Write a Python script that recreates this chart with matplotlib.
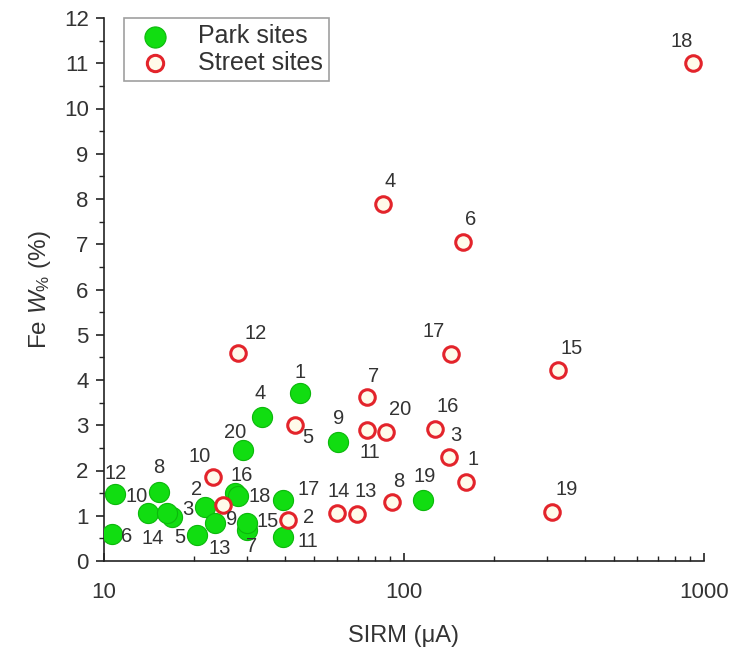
import matplotlib
matplotlib.use("Agg")
import matplotlib.pyplot as plt
import numpy as np

plt.rcParams['font.family'] = ['Liberation Sans', 'DejaVu Sans']
plt.rcParams['mathtext.fontset'] = 'custom'
plt.rcParams['mathtext.rm'] = 'Liberation Sans'
plt.rcParams['mathtext.it'] = 'Liberation Sans:italic'

# park sites (filled green)
park_ids = [1, 2, 3, 4, 5, 6, 7, 8, 9, 10, 11, 12, 13, 14, 15, 16, 17, 18, 19, 20]
park_sirm = [45.0, 21.7, 16.8, 33.6, 20.4, 10.6, 29.9, 15.2, 60.4, 14.05,
             39.6, 10.9, 23.4, 16.2, 29.9, 27.3, 39.6, 28.0, 115.5, 29.1]
park_fe = [3.71, 1.20, 0.98, 3.19, 0.57, 0.60, 0.69, 1.53, 2.64, 1.05,
           0.52, 1.47, 0.83, 1.05, 0.83, 1.50, 1.35, 1.43, 1.35, 2.45]

# street sites (open red)
street_ids = [1, 2, 3, 4, 5, 6, 7, 8, 9, 10, 11, 12, 13, 14, 15, 16, 17, 18, 19, 20]
street_sirm = [160.9, 41.2, 141.0, 85.3, 43.3, 157.6, 75.1, 91.0, 25.0, 23.0,
               75.1, 28.0, 69.9, 59.9, 326.9, 126.9, 143.1, 921.0, 312.2, 87.1]
street_fe = [1.75, 0.91, 2.30, 7.90, 3.01, 7.06, 3.62, 1.30, 1.24, 1.86,
             2.90, 4.59, 1.04, 1.05, 4.21, 2.91, 4.57, 11.0, 1.09, 2.86]

# label offsets in pixels (dx, dy) from each marker
park_off = {1: (0, 21), 2: (-8, 17), 3: (16, 7), 4: (-2, 23), 5: (-17, -2),
            6: (15, -3), 7: (5, -17), 8: (0, 24), 9: (0, 23), 10: (-12, 17),
            11: (25, -4), 12: (0, 21), 13: (5, -25), 14: (-14, -25), 15: (21, 2),
            16: (7, 18), 17: (25, 10), 18: (22, 0), 19: (2, 23), 20: (-8, 18)}
street_off = {1: (7, 22), 2: (20, 2), 3: (7, 21), 4: (7, 22), 5: (13, -13),
              6: (7, 22), 7: (7, 21), 8: (7, 21), 9: (8, -15), 10: (-13, 20),
              11: (3, -23), 12: (17, 20), 13: (8, 22), 14: (1, 22), 15: (13, 22),
              16: (13, 23), 17: (-17, 23), 18: (-12, 22), 19: (14, 22), 20: (14, 22)}

txt = '#333333'
fig = plt.figure(figsize=(7.49, 6.56), dpi=100)
ax = fig.add_axes([104 / 749, 1 - 561 / 656, 600 / 749, 543 / 656])

ax.scatter(park_sirm, park_fe, s=210, color='#11dd11', edgecolors='#0cb80c',
           linewidths=0.8, label='Park sites', zorder=3)
ax.scatter(street_sirm, street_fe, s=125, color='#fffbea', edgecolors='#e3242b',
           linewidths=2.2, label='Street sites', zorder=4)

for i, x, y in zip(park_ids, park_sirm, park_fe):
    dx, dy = park_off[i]
    ax.annotate(str(i), (x, y), xytext=(dx, dy), textcoords='offset pixels',
                ha='center', va='center', fontsize=14.5, color=txt, zorder=5)
for i, x, y in zip(street_ids, street_sirm, street_fe):
    dx, dy = street_off[i]
    ax.annotate(str(i), (x, y), xytext=(dx, dy), textcoords='offset pixels',
                ha='center', va='center', fontsize=14.5, color=txt, zorder=5)

ax.set_xscale('log')
ax.set_xlim(10, 1000)
ax.set_ylim(0, 12)
ax.set_yticks(np.arange(0, 13, 1))
ax.set_yticks(np.arange(0.5, 12, 1), minor=True)
ax.set_xticks([10, 100, 1000])
ax.set_xticklabels(['10', '100', '1000'])

for s in ['top', 'right']:
    ax.spines[s].set_visible(False)
for s in ['left', 'bottom']:
    ax.spines[s].set_color('#222222')
    ax.spines[s].set_linewidth(1.2)

ax.tick_params(axis='y', which='major', direction='out', length=6, width=1.2,
               labelsize=16, colors='#222222', labelcolor=txt, pad=5)
ax.tick_params(axis='y', which='minor', direction='out', length=3.5, width=1.0,
               colors='#222222')
ax.tick_params(axis='x', which='major', direction='in', length=6, width=1.2,
               labelsize=16, colors='#222222', labelcolor=txt, pad=15)
ax.tick_params(axis='x', which='minor', direction='in', length=3.5, width=1.0,
               colors='#222222')

ax.set_xlabel('SIRM (\u03bcA)', fontsize=17, color=txt, labelpad=16)
ax.set_ylabel('Fe $\\mathit{W}_{\\%}$ (%)', fontsize=17.5, color=txt, labelpad=8)

leg = ax.legend(loc='upper left', bbox_to_anchor=(0.033, 1.0), fontsize=18,
                frameon=True, fancybox=False, edgecolor='#888888',
                handletextpad=0.7, borderpad=0.25, labelspacing=0.1,
                borderaxespad=0, markerscale=1.05)
leg.get_frame().set_linewidth(1.2)
for t in leg.get_texts():
    t.set_color(txt)

fig.savefig('out.png', dpi=100, facecolor='white')
